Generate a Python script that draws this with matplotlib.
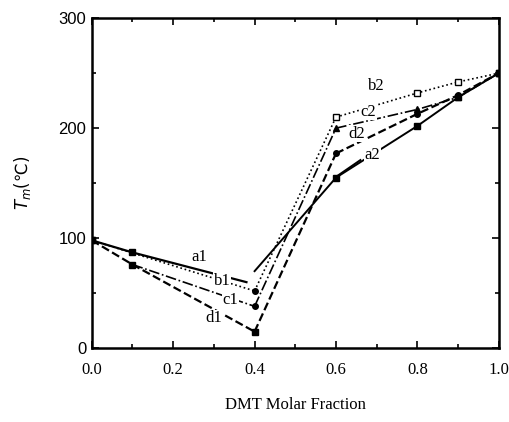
import matplotlib.pyplot as plt
from matplotlib.ticker import MultipleLocator

# dados
x1 = [0.0, 0.1, 0.4]
a1_x = [0.0, 0.1, 0.38]
a1 = [98, 87, 60]
b1 = [98, 87, 52]
c1 = [98, 76, 38]
d1 = [98, 76, 15]

x2 = [0.6, 0.8, 0.9, 1.0]
a2_x = [0.4, 0.6, 0.8, 0.9, 1.0]
a2 = [70, 155, 202, 228, 250]
b2 = [210, 232, 242, 250]
c2 = [200, 217, 228, 250]
d2 = [177, 213, 230, 250]

xticks = [0.0, 0.2, 0.4, 0.6, 0.8, 1.0]
xticklabels = ['0.0', '0.2', '0.4', '0.6', '0.8', '1.0']
yticks = [0, 100, 200, 300]

fig = plt.figure(figsize=(5.1, 4.22), dpi=100)
ax = fig.add_axes([0.180, 0.175, 0.798, 0.782])

k = 'black'
# a: linha cheia
ax.plot(a1_x, a1, '-', color=k, lw=1.6)
ax.plot(x1[:2], a1[:2], 's', color=k, ms=5)
ax.plot(a2_x, a2, '-', color=k, lw=1.4)
ax.plot(a2_x[1:], a2[1:], 's', color=k, ms=5)
# b: pontilhada
ax.plot([x1[0], x1[2]], [b1[0], b1[2]], ':', color=k, lw=1.2)
ax.plot([0.4, 0.6], [b1[2], b2[0]], ':', color=k, lw=1.2)
ax.plot(x2, b2, ':', color=k, lw=1.2, marker='s', mfc='white', ms=5)
ax.plot([0.4], [b1[2]], 'o', color=k, ms=4)
# c: traço-ponto
ax.plot(x1[1:], c1[1:], '-.', color=k, lw=1.2, marker='o', ms=4)
ax.plot([0.4, 0.6], [c1[2], c2[0]], '-.', color=k, lw=1.2)
ax.plot(x2, c2, '-.', color=k, lw=1.2, marker='^', ms=5)
# d: tracejada
ax.plot(x1, d1, '--', color=k, lw=1.6, marker='s', ms=5)
ax.plot([0.4, 0.6], [d1[2], d2[0]], '--', color=k, lw=1.6)
ax.plot(x2, d2, '--', color=k, lw=1.6, marker='o', ms=4)

# rótulos das curvas
fs = dict(fontsize=12, family='Liberation Serif', ha='center', va='center',
          bbox=dict(facecolor='white', edgecolor='none', pad=0.5))
ax.text(0.265, 83, 'a1', **fs)
ax.text(0.32, 61, 'b1', **fs)
ax.text(0.34, 44, 'c1', **fs)
ax.text(0.30, 27, 'd1', **fs)
ax.text(0.70, 238, 'b2', **fs)
ax.text(0.68, 215, 'c2', **fs)
ax.text(0.65, 195, 'd2', **fs)
ax.text(0.69, 176, 'a2', **fs)
ax.plot([0.66, 0.605], [171, 157], '-', color=k, lw=1.4)

ax.set_xlim(0, 1.0)
ax.set_ylim(0, 300)
ax.set_xticks(xticks)
ax.set_xticklabels(xticklabels, family='Liberation Serif', fontsize=12)
ax.set_yticks(yticks)
ax.set_yticklabels([str(v) for v in yticks], family='Liberation Sans', fontsize=12)
ax.xaxis.set_minor_locator(MultipleLocator(0.1))
ax.yaxis.set_minor_locator(MultipleLocator(50))
ax.tick_params(which='both', direction='in', top=True, right=True, width=1.2)
ax.tick_params(which='major', length=5)
ax.tick_params(axis='x', which='major', pad=10)
ax.tick_params(axis='y', which='major', pad=4)
ax.tick_params(which='minor', length=3)
for s in ax.spines.values():
    s.set_linewidth(1.8)

ax.set_ylabel(r'$T_m$(℃)', fontsize=12, labelpad=18)
ax.set_xlabel('DMT Molar Fraction', family='Liberation Serif', fontsize=12, labelpad=14)

plt.savefig('out.png', dpi=100)
